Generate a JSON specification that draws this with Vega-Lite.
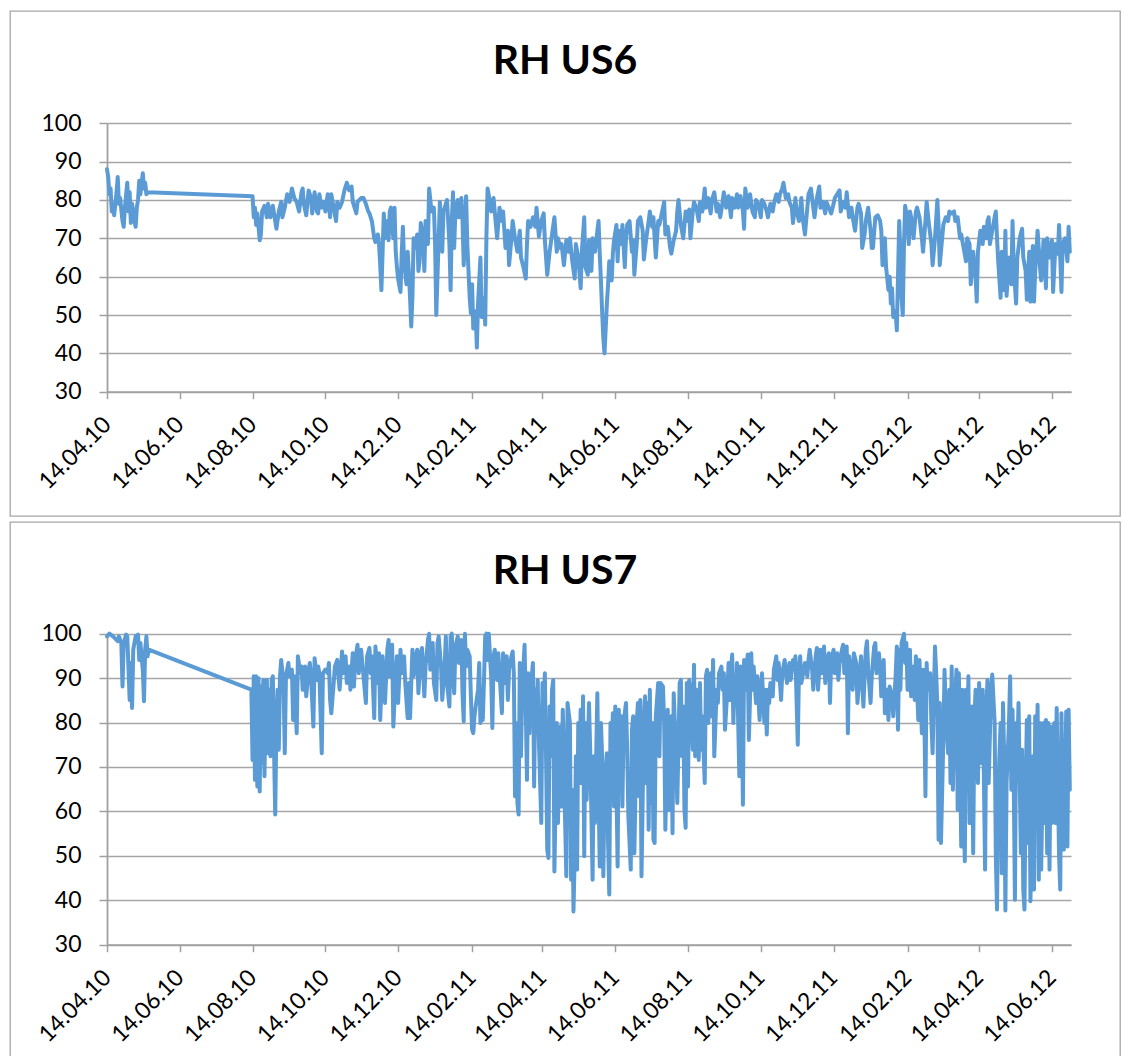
{
  "$schema": "https://vega.github.io/schema/vega-lite/v6.json",
  "background": "white",
  "padding": {"left": 9, "top": 10, "right": 0, "bottom": 0},
  "config": {
    "font": "Lato",
    "view": {"stroke": "#a6a6a6", "strokeWidth": 1.3},
    "concat": {"spacing": 4},
    "axis": {
      "labelFont": "Lato", "labelFontSize": 23, "labelColor": "#000000",
      "tickColor": "#a0a0a0", "tickWidth": 1.5, "domainColor": "#a0a0a0", "domainWidth": 1.8,
      "gridColor": "#a6a6a6", "gridWidth": 1.3, "labelFlush": false, "labelOverlap": false, "labelBound": false
    }
  },
  "datasets": {
    "us6": [
{"date":"2010-04-14","rh":88},{"date":"2010-04-15","rh":86},{"date":"2010-04-16","rh":81.5},{"date":"2010-04-17","rh":83},{"date":"2010-04-18","rh":77},{"date":"2010-04-19","rh":79},{"date":"2010-04-20","rh":76},{"date":"2010-04-22","rh":82},{"date":"2010-04-23","rh":86},{"date":"2010-04-24","rh":79},{"date":"2010-04-25","rh":80.5},{"date":"2010-04-27","rh":74.5},{"date":"2010-04-28","rh":73},{"date":"2010-04-29","rh":78},{"date":"2010-05-01","rh":84.5},{"date":"2010-05-02","rh":77},{"date":"2010-05-03","rh":82},{"date":"2010-05-04","rh":74},{"date":"2010-05-05","rh":79},{"date":"2010-05-07","rh":74.5},{"date":"2010-05-08","rh":73},{"date":"2010-05-09","rh":78},{"date":"2010-05-10","rh":80},{"date":"2010-05-11","rh":85},{"date":"2010-05-12","rh":81.5},{"date":"2010-05-14","rh":87},{"date":"2010-05-15","rh":83},{"date":"2010-05-16","rh":84.5},{"date":"2010-05-17","rh":81.5},{"date":"2010-05-18","rh":82},
{"date":"2010-08-14","rh":81},{"date":"2010-08-15","rh":75.5},{"date":"2010-08-16","rh":78},{"date":"2010-08-17","rh":73.5},{"date":"2010-08-18","rh":76.5},{"date":"2010-08-20","rh":69.5},{"date":"2010-08-21","rh":71},{"date":"2010-08-22","rh":77},{"date":"2010-08-24","rh":78.5},{"date":"2010-08-26","rh":75.5},{"date":"2010-08-27","rh":79},{"date":"2010-08-29","rh":75.5},{"date":"2010-08-31","rh":78.5},{"date":"2010-09-03","rh":72.5},{"date":"2010-09-05","rh":77},{"date":"2010-09-07","rh":79.5},{"date":"2010-09-08","rh":75.5},{"date":"2010-09-10","rh":78},{"date":"2010-09-12","rh":81.5},{"date":"2010-09-14","rh":79.5},{"date":"2010-09-16","rh":83},{"date":"2010-09-18","rh":80.5},{"date":"2010-09-20","rh":79.5},{"date":"2010-09-22","rh":77},{"date":"2010-09-24","rh":82},{"date":"2010-09-25","rh":83},{"date":"2010-09-26","rh":79},{"date":"2010-09-28","rh":76},{"date":"2010-09-30","rh":82.5},
{"date":"2010-10-02","rh":80.5},{"date":"2010-10-03","rh":76.5},{"date":"2010-10-05","rh":82},{"date":"2010-10-07","rh":77},{"date":"2010-10-08","rh":76.5},{"date":"2010-10-09","rh":81.5},{"date":"2010-10-11","rh":78},{"date":"2010-10-13","rh":79.5},{"date":"2010-10-14","rh":77},{"date":"2010-10-16","rh":81.5},{"date":"2010-10-18","rh":75.5},{"date":"2010-10-19","rh":81.5},{"date":"2010-10-21","rh":78},{"date":"2010-10-23","rh":74.5},{"date":"2010-10-24","rh":79.5},{"date":"2010-10-26","rh":78},{"date":"2010-10-28","rh":79.5},{"date":"2010-10-30","rh":82.5},{"date":"2010-10-31","rh":83.5},
{"date":"2010-11-01","rh":84.5},{"date":"2010-11-03","rh":82.5},{"date":"2010-11-05","rh":83.5},{"date":"2010-11-06","rh":79.5},{"date":"2010-11-07","rh":78.5},{"date":"2010-11-09","rh":76.5},{"date":"2010-11-10","rh":79.5},{"date":"2010-11-13","rh":80.5},{"date":"2010-11-15","rh":80.5},{"date":"2010-11-17","rh":79},{"date":"2010-11-19","rh":77},{"date":"2010-11-20","rh":76.5},{"date":"2010-11-22","rh":74.5},{"date":"2010-11-24","rh":70},{"date":"2010-11-25","rh":69},{"date":"2010-11-27","rh":71},{"date":"2010-11-28","rh":68.5},{"date":"2010-11-29","rh":63},{"date":"2010-11-30","rh":56.5},
{"date":"2010-12-01","rh":66.5},{"date":"2010-12-02","rh":76.5},{"date":"2010-12-03","rh":70},{"date":"2010-12-05","rh":74.5},{"date":"2010-12-06","rh":69.5},{"date":"2010-12-07","rh":77},{"date":"2010-12-08","rh":78},{"date":"2010-12-10","rh":70},{"date":"2010-12-11","rh":78},{"date":"2010-12-12","rh":66.5},{"date":"2010-12-13","rh":62.5},{"date":"2010-12-14","rh":59.5},{"date":"2010-12-16","rh":56},{"date":"2010-12-17","rh":66},{"date":"2010-12-18","rh":73},{"date":"2010-12-19","rh":64},{"date":"2010-12-21","rh":58},{"date":"2010-12-22","rh":66.5},{"date":"2010-12-23","rh":61.5},{"date":"2010-12-24","rh":54.5},{"date":"2010-12-25","rh":47},{"date":"2010-12-26","rh":54.5},{"date":"2010-12-27","rh":70},{"date":"2010-12-28","rh":67.5},{"date":"2010-12-30","rh":71},{"date":"2010-12-31","rh":61.5},
{"date":"2011-01-01","rh":64},{"date":"2011-01-02","rh":74},{"date":"2011-01-04","rh":70},{"date":"2011-01-05","rh":61.5},{"date":"2011-01-06","rh":74.5},{"date":"2011-01-08","rh":68.5},{"date":"2011-01-09","rh":83},{"date":"2011-01-11","rh":77},{"date":"2011-01-13","rh":78},{"date":"2011-01-14","rh":68.5},{"date":"2011-01-15","rh":50},{"date":"2011-01-16","rh":60},{"date":"2011-01-18","rh":79.5},{"date":"2011-01-20","rh":66.5},{"date":"2011-01-21","rh":77},{"date":"2011-01-23","rh":79},{"date":"2011-01-24","rh":80},{"date":"2011-01-26","rh":68.5},{"date":"2011-01-27","rh":56.5},{"date":"2011-01-28","rh":74.5},{"date":"2011-01-29","rh":82},{"date":"2011-01-30","rh":67.5},{"date":"2011-01-31","rh":77},
{"date":"2011-02-02","rh":80},{"date":"2011-02-03","rh":75.5},{"date":"2011-02-05","rh":80.5},{"date":"2011-02-06","rh":74.5},{"date":"2011-02-07","rh":63},{"date":"2011-02-09","rh":81},{"date":"2011-02-10","rh":68.5},{"date":"2011-02-12","rh":54.5},{"date":"2011-02-13","rh":50.5},{"date":"2011-02-14","rh":58},{"date":"2011-02-15","rh":46.5},{"date":"2011-02-17","rh":51},{"date":"2011-02-18","rh":41.5},{"date":"2011-02-19","rh":53},{"date":"2011-02-21","rh":65},{"date":"2011-02-22","rh":49.5},{"date":"2011-02-24","rh":54.5},{"date":"2011-02-25","rh":47.5},{"date":"2011-02-26","rh":70},{"date":"2011-02-27","rh":83},
{"date":"2011-03-01","rh":79.5},{"date":"2011-03-02","rh":77},{"date":"2011-03-04","rh":80.5},{"date":"2011-03-06","rh":73.5},{"date":"2011-03-07","rh":70},{"date":"2011-03-09","rh":78},{"date":"2011-03-11","rh":74.5},{"date":"2011-03-12","rh":77},{"date":"2011-03-14","rh":67.5},{"date":"2011-03-16","rh":72},{"date":"2011-03-17","rh":63},{"date":"2011-03-19","rh":70},{"date":"2011-03-20","rh":74.5},{"date":"2011-03-22","rh":70},{"date":"2011-03-24","rh":66.5},{"date":"2011-03-26","rh":72},{"date":"2011-03-27","rh":65},{"date":"2011-03-29","rh":62.5},{"date":"2011-03-31","rh":59.5},
{"date":"2011-04-01","rh":68.5},{"date":"2011-04-02","rh":74.5},{"date":"2011-04-04","rh":73},{"date":"2011-04-06","rh":75.5},{"date":"2011-04-08","rh":73},{"date":"2011-04-09","rh":78},{"date":"2011-04-11","rh":70.5},{"date":"2011-04-13","rh":74.5},{"date":"2011-04-15","rh":76.5},{"date":"2011-04-16","rh":69.5},{"date":"2011-04-18","rh":60.5},{"date":"2011-04-20","rh":66.5},{"date":"2011-04-22","rh":71},{"date":"2011-04-24","rh":75.5},{"date":"2011-04-26","rh":66.5},{"date":"2011-04-27","rh":70},{"date":"2011-04-29","rh":67.5},{"date":"2011-04-30","rh":68.5},
{"date":"2011-05-02","rh":63},{"date":"2011-05-04","rh":69.5},{"date":"2011-05-06","rh":66.5},{"date":"2011-05-07","rh":70},{"date":"2011-05-09","rh":64},{"date":"2011-05-11","rh":59.5},{"date":"2011-05-12","rh":68.5},{"date":"2011-05-14","rh":65},{"date":"2011-05-16","rh":57},{"date":"2011-05-17","rh":66.5},{"date":"2011-05-19","rh":75.5},{"date":"2011-05-20","rh":62.5},{"date":"2011-05-22","rh":60.5},{"date":"2011-05-23","rh":69.5},{"date":"2011-05-25","rh":61.5},{"date":"2011-05-26","rh":70},{"date":"2011-05-28","rh":66.5},{"date":"2011-05-30","rh":72},{"date":"2011-05-31","rh":74.5},
{"date":"2011-06-01","rh":66},{"date":"2011-06-02","rh":59},{"date":"2011-06-03","rh":51},{"date":"2011-06-04","rh":44},{"date":"2011-06-05","rh":40},{"date":"2011-06-06","rh":46.5},{"date":"2011-06-07","rh":53},{"date":"2011-06-08","rh":58},{"date":"2011-06-09","rh":64},{"date":"2011-06-11","rh":59},{"date":"2011-06-12","rh":66},{"date":"2011-06-13","rh":69.5},{"date":"2011-06-15","rh":73.5},{"date":"2011-06-16","rh":64},{"date":"2011-06-17","rh":72},{"date":"2011-06-19","rh":68.5},{"date":"2011-06-20","rh":73.5},{"date":"2011-06-22","rh":62.5},{"date":"2011-06-23","rh":70},{"date":"2011-06-24","rh":73.5},{"date":"2011-06-26","rh":74.5},{"date":"2011-06-28","rh":66.5},{"date":"2011-06-29","rh":69.5},{"date":"2011-06-30","rh":60.5},
{"date":"2011-07-02","rh":68.5},{"date":"2011-07-03","rh":74.5},{"date":"2011-07-05","rh":75.5},{"date":"2011-07-07","rh":72},{"date":"2011-07-08","rh":64.5},{"date":"2011-07-10","rh":70},{"date":"2011-07-12","rh":74.5},{"date":"2011-07-13","rh":77},{"date":"2011-07-15","rh":73},{"date":"2011-07-16","rh":75.5},{"date":"2011-07-18","rh":65},{"date":"2011-07-20","rh":74.5},{"date":"2011-07-21","rh":73.5},{"date":"2011-07-23","rh":76.5},{"date":"2011-07-25","rh":79.5},{"date":"2011-07-26","rh":71},{"date":"2011-07-28","rh":73},{"date":"2011-07-30","rh":67.5},{"date":"2011-07-31","rh":66},
{"date":"2011-08-02","rh":69.5},{"date":"2011-08-04","rh":72},{"date":"2011-08-05","rh":77},{"date":"2011-08-06","rh":80},{"date":"2011-08-08","rh":73.5},{"date":"2011-08-10","rh":70},{"date":"2011-08-12","rh":77},{"date":"2011-08-13","rh":74.5},{"date":"2011-08-15","rh":77.5},{"date":"2011-08-16","rh":70},{"date":"2011-08-18","rh":77},{"date":"2011-08-19","rh":79.5},{"date":"2011-08-21","rh":78},{"date":"2011-08-23","rh":74.5},{"date":"2011-08-24","rh":79.5},{"date":"2011-08-26","rh":77},{"date":"2011-08-28","rh":83},{"date":"2011-08-29","rh":78},{"date":"2011-08-31","rh":80.5},
{"date":"2011-09-02","rh":76.5},{"date":"2011-09-03","rh":80},{"date":"2011-09-05","rh":82},{"date":"2011-09-07","rh":77},{"date":"2011-09-08","rh":79},{"date":"2011-09-10","rh":75.5},{"date":"2011-09-12","rh":79.5},{"date":"2011-09-13","rh":82},{"date":"2011-09-15","rh":78},{"date":"2011-09-17","rh":81},{"date":"2011-09-19","rh":75.5},{"date":"2011-09-20","rh":80.5},{"date":"2011-09-22","rh":78},{"date":"2011-09-24","rh":81.5},{"date":"2011-09-25","rh":78},{"date":"2011-09-27","rh":81},{"date":"2011-09-29","rh":77},{"date":"2011-09-30","rh":72.5},
{"date":"2011-10-01","rh":83},{"date":"2011-10-03","rh":78},{"date":"2011-10-05","rh":81.5},{"date":"2011-10-07","rh":77},{"date":"2011-10-09","rh":75.5},{"date":"2011-10-10","rh":80},{"date":"2011-10-12","rh":79},{"date":"2011-10-14","rh":75.5},{"date":"2011-10-15","rh":80},{"date":"2011-10-17","rh":79},{"date":"2011-10-19","rh":77},{"date":"2011-10-20","rh":75.5},{"date":"2011-10-22","rh":79},{"date":"2011-10-24","rh":77},{"date":"2011-10-25","rh":79},{"date":"2011-10-27","rh":81.5},{"date":"2011-10-29","rh":79.5},{"date":"2011-10-30","rh":81.5},
{"date":"2011-11-01","rh":83},{"date":"2011-11-02","rh":84.5},{"date":"2011-11-04","rh":80.5},{"date":"2011-11-06","rh":81.5},{"date":"2011-11-07","rh":79.5},{"date":"2011-11-09","rh":78},{"date":"2011-11-10","rh":74},{"date":"2011-11-12","rh":80.5},{"date":"2011-11-13","rh":77},{"date":"2011-11-15","rh":74.5},{"date":"2011-11-17","rh":80.5},{"date":"2011-11-18","rh":75.5},{"date":"2011-11-20","rh":71},{"date":"2011-11-22","rh":78},{"date":"2011-11-23","rh":81.5},{"date":"2011-11-25","rh":83},{"date":"2011-11-27","rh":78},{"date":"2011-11-28","rh":75.5},{"date":"2011-11-30","rh":80.5},
{"date":"2011-12-02","rh":83.5},{"date":"2011-12-03","rh":78},{"date":"2011-12-05","rh":79.5},{"date":"2011-12-07","rh":76.5},{"date":"2011-12-08","rh":79.5},{"date":"2011-12-10","rh":78},{"date":"2011-12-12","rh":76.5},{"date":"2011-12-14","rh":79},{"date":"2011-12-15","rh":80.5},{"date":"2011-12-17","rh":81.5},{"date":"2011-12-19","rh":82.5},{"date":"2011-12-20","rh":77},{"date":"2011-12-22","rh":79.5},{"date":"2011-12-24","rh":78},{"date":"2011-12-25","rh":82},{"date":"2011-12-27","rh":75.5},{"date":"2011-12-29","rh":78},{"date":"2011-12-30","rh":75.5},
{"date":"2012-01-01","rh":72},{"date":"2012-01-03","rh":78},{"date":"2012-01-04","rh":79},{"date":"2012-01-06","rh":76.5},{"date":"2012-01-07","rh":67.5},{"date":"2012-01-09","rh":71},{"date":"2012-01-10","rh":74.5},{"date":"2012-01-12","rh":78},{"date":"2012-01-14","rh":72},{"date":"2012-01-15","rh":67.5},{"date":"2012-01-16","rh":67.5},{"date":"2012-01-18","rh":75.5},{"date":"2012-01-20","rh":76},{"date":"2012-01-22","rh":74.5},{"date":"2012-01-23","rh":72},{"date":"2012-01-24","rh":63},{"date":"2012-01-26","rh":70},{"date":"2012-01-27","rh":62.5},{"date":"2012-01-29","rh":56.5},{"date":"2012-01-30","rh":60},{"date":"2012-01-31","rh":53},
{"date":"2012-02-01","rh":57},{"date":"2012-02-02","rh":49.5},{"date":"2012-02-04","rh":51},{"date":"2012-02-05","rh":46},{"date":"2012-02-06","rh":60},{"date":"2012-02-07","rh":74.5},{"date":"2012-02-08","rh":66.5},{"date":"2012-02-09","rh":54.5},{"date":"2012-02-10","rh":50},{"date":"2012-02-11","rh":68.5},{"date":"2012-02-12","rh":78.5},{"date":"2012-02-14","rh":74.5},{"date":"2012-02-15","rh":68.5},{"date":"2012-02-16","rh":77},{"date":"2012-02-17","rh":75.5},{"date":"2012-02-19","rh":70},{"date":"2012-02-21","rh":77},{"date":"2012-02-22","rh":78},{"date":"2012-02-24","rh":75.5},{"date":"2012-02-26","rh":70},{"date":"2012-02-27","rh":66.5},{"date":"2012-02-29","rh":74.5},
{"date":"2012-03-01","rh":79.5},{"date":"2012-03-03","rh":73.5},{"date":"2012-03-05","rh":68.5},{"date":"2012-03-06","rh":63},{"date":"2012-03-08","rh":70},{"date":"2012-03-10","rh":80},{"date":"2012-03-11","rh":73.5},{"date":"2012-03-12","rh":63},{"date":"2012-03-14","rh":70},{"date":"2012-03-15","rh":73.5},{"date":"2012-03-17","rh":75.5},{"date":"2012-03-19","rh":74.5},{"date":"2012-03-20","rh":77},{"date":"2012-03-22","rh":76.5},{"date":"2012-03-24","rh":77},{"date":"2012-03-25","rh":74.5},{"date":"2012-03-27","rh":75.5},{"date":"2012-03-29","rh":70},{"date":"2012-03-30","rh":71},
{"date":"2012-04-01","rh":67.5},{"date":"2012-04-03","rh":64},{"date":"2012-04-04","rh":70},{"date":"2012-04-06","rh":68.5},{"date":"2012-04-07","rh":58},{"date":"2012-04-09","rh":66.5},{"date":"2012-04-11","rh":60},{"date":"2012-04-12","rh":53.5},{"date":"2012-04-13","rh":66.5},{"date":"2012-04-15","rh":72},{"date":"2012-04-17","rh":68.5},{"date":"2012-04-18","rh":73},{"date":"2012-04-20","rh":70},{"date":"2012-04-21","rh":74.5},{"date":"2012-04-22","rh":75.5},{"date":"2012-04-23","rh":68.5},{"date":"2012-04-25","rh":72},{"date":"2012-04-27","rh":75.5},{"date":"2012-04-28","rh":77},{"date":"2012-04-29","rh":70},{"date":"2012-04-30","rh":64},
{"date":"2012-05-02","rh":54.5},{"date":"2012-05-03","rh":66.5},{"date":"2012-05-05","rh":56.5},{"date":"2012-05-06","rh":72},{"date":"2012-05-07","rh":55},{"date":"2012-05-09","rh":65},{"date":"2012-05-11","rh":58},{"date":"2012-05-12","rh":74.5},{"date":"2012-05-13","rh":62.5},{"date":"2012-05-15","rh":53},{"date":"2012-05-16","rh":65},{"date":"2012-05-18","rh":70},{"date":"2012-05-20","rh":72.5},{"date":"2012-05-21","rh":65},{"date":"2012-05-23","rh":61.5},{"date":"2012-05-24","rh":54},{"date":"2012-05-26","rh":66.5},{"date":"2012-05-27","rh":53.5},{"date":"2012-05-29","rh":68},{"date":"2012-05-30","rh":53.5},{"date":"2012-05-31","rh":61.5},
{"date":"2012-06-02","rh":72},{"date":"2012-06-04","rh":62.5},{"date":"2012-06-05","rh":59},{"date":"2012-06-07","rh":69.5},{"date":"2012-06-09","rh":57},{"date":"2012-06-10","rh":70},{"date":"2012-06-12","rh":65},{"date":"2012-06-14","rh":69.5},{"date":"2012-06-15","rh":56},{"date":"2012-06-17","rh":68.5},{"date":"2012-06-19","rh":66},{"date":"2012-06-20","rh":73.5},{"date":"2012-06-22","rh":56},{"date":"2012-06-23","rh":68.5},{"date":"2012-06-25","rh":70},{"date":"2012-06-27","rh":64},{"date":"2012-06-28","rh":73},{"date":"2012-06-29","rh":66.5}
    ],
    "us7": [
{"date":"2010-04-14","rh":99.4},{"date":"2010-04-16","rh":100},{"date":"2010-04-19","rh":99.4},{"date":"2010-04-22","rh":98.6},{"date":"2010-04-23","rh":98.3},{"date":"2010-04-24","rh":99.4},{"date":"2010-04-26","rh":97.9},{"date":"2010-04-27","rh":88.1},{"date":"2010-04-28","rh":97.9},{"date":"2010-04-30","rh":99.8},{"date":"2010-05-01","rh":99.4},{"date":"2010-05-03","rh":85.1},{"date":"2010-05-04","rh":93.4},{"date":"2010-05-05","rh":83.3},{"date":"2010-05-06","rh":96.4},{"date":"2010-05-08","rh":99.4},{"date":"2010-05-10","rh":99.8},{"date":"2010-05-11","rh":94.1},{"date":"2010-05-12","rh":97.9},{"date":"2010-05-14","rh":91.9},{"date":"2010-05-15","rh":84.8},{"date":"2010-05-16","rh":96.4},{"date":"2010-05-17","rh":99.4},{"date":"2010-05-18","rh":94.9},{"date":"2010-05-19","rh":96.4},
{"date":"2010-08-13","rh":87.4},{"date":"2010-08-14","rh":71.6},{"date":"2010-08-15","rh":90.4},{"date":"2010-08-16","rh":67.1},{"date":"2010-08-17","rh":90.4},{"date":"2010-08-18","rh":65.6},{"date":"2010-08-19","rh":90},{"date":"2010-08-20","rh":64.5},{"date":"2010-08-21","rh":88.1},{"date":"2010-08-22","rh":70.9},{"date":"2010-08-23","rh":89.6},{"date":"2010-08-24","rh":67.9},{"date":"2010-08-25","rh":87.4},{"date":"2010-08-26","rh":89.6},{"date":"2010-08-27","rh":73.1},{"date":"2010-08-28","rh":87.4},{"date":"2010-08-29","rh":72.4},{"date":"2010-08-30","rh":89.6},{"date":"2010-08-31","rh":90.4},
{"date":"2010-09-01","rh":73.9},{"date":"2010-09-02","rh":59.3},{"date":"2010-09-03","rh":79.9},{"date":"2010-09-04","rh":87.4},{"date":"2010-09-05","rh":73.9},{"date":"2010-09-06","rh":90.4},{"date":"2010-09-07","rh":94.1},{"date":"2010-09-09","rh":88.9},{"date":"2010-09-10","rh":73.1},{"date":"2010-09-11","rh":90.4},{"date":"2010-09-13","rh":93.4},{"date":"2010-09-14","rh":90.4},{"date":"2010-09-16","rh":91.9},{"date":"2010-09-17","rh":80.6},{"date":"2010-09-18","rh":90.4},{"date":"2010-09-20","rh":77.6},{"date":"2010-09-21","rh":94.9},{"date":"2010-09-23","rh":91.1},{"date":"2010-09-24","rh":92.6},{"date":"2010-09-25","rh":87.4},{"date":"2010-09-27","rh":92.6},{"date":"2010-09-28","rh":85.9},{"date":"2010-09-30","rh":91.9},
{"date":"2010-10-01","rh":93.4},{"date":"2010-10-02","rh":90.4},{"date":"2010-10-04","rh":79.1},{"date":"2010-10-05","rh":94.5},{"date":"2010-10-07","rh":89.6},{"date":"2010-10-08","rh":92.6},{"date":"2010-10-09","rh":91.1},{"date":"2010-10-11","rh":73.1},{"date":"2010-10-12","rh":91.1},{"date":"2010-10-14","rh":91.9},{"date":"2010-10-16","rh":91.1},{"date":"2010-10-17","rh":93.4},{"date":"2010-10-18","rh":85.1},{"date":"2010-10-19","rh":82.1},{"date":"2010-10-21","rh":88.9},{"date":"2010-10-22","rh":92.6},{"date":"2010-10-24","rh":94.1},{"date":"2010-10-25","rh":90.4},{"date":"2010-10-26","rh":87.4},{"date":"2010-10-28","rh":96},{"date":"2010-10-29","rh":91.1},{"date":"2010-10-31","rh":94.9},
{"date":"2010-11-01","rh":88.9},{"date":"2010-11-03","rh":92.6},{"date":"2010-11-04","rh":87.4},{"date":"2010-11-06","rh":95.6},{"date":"2010-11-07","rh":88.1},{"date":"2010-11-08","rh":94.1},{"date":"2010-11-10","rh":97.5},{"date":"2010-11-11","rh":91.1},{"date":"2010-11-13","rh":96.4},{"date":"2010-11-14","rh":93.4},{"date":"2010-11-15","rh":90.4},{"date":"2010-11-17","rh":84.4},{"date":"2010-11-18","rh":94.9},{"date":"2010-11-20","rh":96.8},{"date":"2010-11-21","rh":91.1},{"date":"2010-11-22","rh":94.9},{"date":"2010-11-24","rh":81},{"date":"2010-11-25","rh":97.1},{"date":"2010-11-27","rh":88.9},{"date":"2010-11-28","rh":95.6},{"date":"2010-11-29","rh":80.6},
{"date":"2010-12-01","rh":94.9},{"date":"2010-12-02","rh":89.6},{"date":"2010-12-03","rh":84.4},{"date":"2010-12-05","rh":96.4},{"date":"2010-12-06","rh":98.6},{"date":"2010-12-07","rh":90.4},{"date":"2010-12-09","rh":97.5},{"date":"2010-12-10","rh":79.1},{"date":"2010-12-12","rh":91.1},{"date":"2010-12-13","rh":94.9},{"date":"2010-12-14","rh":84.4},{"date":"2010-12-16","rh":96.4},{"date":"2010-12-17","rh":91.1},{"date":"2010-12-19","rh":94.9},{"date":"2010-12-20","rh":88.9},{"date":"2010-12-22","rh":81},{"date":"2010-12-23","rh":88.9},{"date":"2010-12-24","rh":81},{"date":"2010-12-26","rh":96.4},{"date":"2010-12-27","rh":90.4},{"date":"2010-12-29","rh":94.9},{"date":"2010-12-30","rh":96.4},{"date":"2010-12-31","rh":86.6},
{"date":"2011-01-02","rh":95.6},{"date":"2011-01-03","rh":96.8},{"date":"2011-01-05","rh":85.9},{"date":"2011-01-06","rh":92.6},{"date":"2011-01-08","rh":98.6},{"date":"2011-01-09","rh":100},{"date":"2011-01-10","rh":91.9},{"date":"2011-01-12","rh":97.9},{"date":"2011-01-13","rh":88.9},{"date":"2011-01-15","rh":85.1},{"date":"2011-01-16","rh":97.9},{"date":"2011-01-17","rh":99.4},{"date":"2011-01-19","rh":92.6},{"date":"2011-01-20","rh":85.1},{"date":"2011-01-22","rh":92.6},{"date":"2011-01-23","rh":99.4},{"date":"2011-01-24","rh":88.9},{"date":"2011-01-26","rh":83.6},{"date":"2011-01-27","rh":99.4},{"date":"2011-01-28","rh":100},{"date":"2011-01-29","rh":91.1},{"date":"2011-01-30","rh":86.6},{"date":"2011-01-31","rh":97.1},
{"date":"2011-02-02","rh":99.4},{"date":"2011-02-03","rh":93.4},{"date":"2011-02-05","rh":98.6},{"date":"2011-02-06","rh":86.3},{"date":"2011-02-07","rh":80.3},{"date":"2011-02-08","rh":100},{"date":"2011-02-09","rh":92.6},{"date":"2011-02-10","rh":96.4},{"date":"2011-02-12","rh":94.9},{"date":"2011-02-13","rh":85.9},{"date":"2011-02-14","rh":78.4},{"date":"2011-02-15","rh":77.6},{"date":"2011-02-16","rh":81.4},{"date":"2011-02-17","rh":83.6},{"date":"2011-02-19","rh":87.4},{"date":"2011-02-20","rh":93.4},{"date":"2011-02-21","rh":79.9},{"date":"2011-02-22","rh":87.4},{"date":"2011-02-23","rh":80.6},{"date":"2011-02-24","rh":89.6},{"date":"2011-02-25","rh":99.4},{"date":"2011-02-26","rh":100},{"date":"2011-02-27","rh":94.1},{"date":"2011-02-28","rh":100},
{"date":"2011-03-02","rh":90.4},{"date":"2011-03-03","rh":78.8},{"date":"2011-03-04","rh":94.9},{"date":"2011-03-05","rh":96.4},{"date":"2011-03-07","rh":89.6},{"date":"2011-03-08","rh":95.6},{"date":"2011-03-09","rh":91.1},{"date":"2011-03-11","rh":82.1},{"date":"2011-03-12","rh":95.6},{"date":"2011-03-14","rh":88.9},{"date":"2011-03-15","rh":94.9},{"date":"2011-03-16","rh":85.1},{"date":"2011-03-17","rh":91.9},{"date":"2011-03-19","rh":94.9},{"date":"2011-03-20","rh":96},{"date":"2011-03-21","rh":91.1},{"date":"2011-03-22","rh":63.4},{"date":"2011-03-23","rh":79.9},{"date":"2011-03-24","rh":61.9},{"date":"2011-03-25","rh":59.3},{"date":"2011-03-26","rh":93.4},{"date":"2011-03-27","rh":72.4},{"date":"2011-03-28","rh":87.4},{"date":"2011-03-30","rh":97.5},{"date":"2011-03-31","rh":83.6},
{"date":"2011-04-01","rh":67.1},{"date":"2011-04-02","rh":91.1},{"date":"2011-04-03","rh":77.6},{"date":"2011-04-04","rh":87.4},{"date":"2011-04-06","rh":93.4},{"date":"2011-04-07","rh":65.6},{"date":"2011-04-08","rh":87.4},{"date":"2011-04-09","rh":79.9},{"date":"2011-04-10","rh":89.6},{"date":"2011-04-11","rh":76.1},{"date":"2011-04-13","rh":57.4},{"date":"2011-04-14","rh":88.9},{"date":"2011-04-15","rh":83.6},{"date":"2011-04-16","rh":91.1},{"date":"2011-04-17","rh":72.4},{"date":"2011-04-18","rh":51.4},{"date":"2011-04-19","rh":49.5},{"date":"2011-04-20","rh":83.6},{"date":"2011-04-21","rh":72.4},{"date":"2011-04-22","rh":87.4},{"date":"2011-04-23","rh":89.6},{"date":"2011-04-24","rh":46.5},{"date":"2011-04-26","rh":79.9},{"date":"2011-04-27","rh":57.4},{"date":"2011-04-28","rh":72.4},{"date":"2011-04-29","rh":79.1},{"date":"2011-04-30","rh":61.1},
{"date":"2011-05-01","rh":82.9},{"date":"2011-05-02","rh":72.4},{"date":"2011-05-03","rh":57.4},{"date":"2011-05-04","rh":45.4},{"date":"2011-05-05","rh":84.4},{"date":"2011-05-07","rh":79.9},{"date":"2011-05-08","rh":44.6},{"date":"2011-05-09","rh":64.9},{"date":"2011-05-10","rh":37.5},{"date":"2011-05-11","rh":49.9},{"date":"2011-05-12","rh":72.4},{"date":"2011-05-13","rh":46.9},{"date":"2011-05-14","rh":79.9},{"date":"2011-05-15","rh":66.4},{"date":"2011-05-16","rh":82.9},{"date":"2011-05-17","rh":66.4},{"date":"2011-05-18","rh":85.9},{"date":"2011-05-19","rh":49.9},{"date":"2011-05-20","rh":79.9},{"date":"2011-05-21","rh":62.6},{"date":"2011-05-23","rh":84.4},{"date":"2011-05-24","rh":73.9},{"date":"2011-05-26","rh":44.6},{"date":"2011-05-27","rh":72.4},{"date":"2011-05-28","rh":57.4},{"date":"2011-05-30","rh":86.6},{"date":"2011-05-31","rh":64.9},
{"date":"2011-06-01","rh":47.6},{"date":"2011-06-02","rh":79.9},{"date":"2011-06-03","rh":72.4},{"date":"2011-06-04","rh":45.4},{"date":"2011-06-05","rh":64.9},{"date":"2011-06-07","rh":73.1},{"date":"2011-06-08","rh":52.9},{"date":"2011-06-09","rh":41.3},{"date":"2011-06-10","rh":79.9},{"date":"2011-06-11","rh":72.4},{"date":"2011-06-12","rh":82.1},{"date":"2011-06-13","rh":61.1},{"date":"2011-06-14","rh":83.6},{"date":"2011-06-16","rh":47.6},{"date":"2011-06-17","rh":82.9},{"date":"2011-06-18","rh":68.6},{"date":"2011-06-19","rh":81.4},{"date":"2011-06-20","rh":61.1},{"date":"2011-06-21","rh":79.9},{"date":"2011-06-23","rh":84.4},{"date":"2011-06-24","rh":73.9},{"date":"2011-06-25","rh":58.9},{"date":"2011-06-27","rh":46.9},{"date":"2011-06-28","rh":78.4},{"date":"2011-06-29","rh":81.4},{"date":"2011-06-30","rh":50.6},
{"date":"2011-07-02","rh":79.9},{"date":"2011-07-03","rh":84.4},{"date":"2011-07-04","rh":63.4},{"date":"2011-07-05","rh":85.1},{"date":"2011-07-06","rh":45.4},{"date":"2011-07-08","rh":79.9},{"date":"2011-07-09","rh":85.9},{"date":"2011-07-10","rh":66.4},{"date":"2011-07-11","rh":84.4},{"date":"2011-07-12","rh":55.9},{"date":"2011-07-13","rh":87.4},{"date":"2011-07-14","rh":61.9},{"date":"2011-07-15","rh":79.9},{"date":"2011-07-16","rh":53.6},{"date":"2011-07-17","rh":52.9},{"date":"2011-07-18","rh":81.4},{"date":"2011-07-20","rh":88.9},{"date":"2011-07-21","rh":72.4},{"date":"2011-07-22","rh":88.9},{"date":"2011-07-24","rh":88.1},{"date":"2011-07-25","rh":79.9},{"date":"2011-07-26","rh":55.9},{"date":"2011-07-28","rh":82.9},{"date":"2011-07-29","rh":60.4},{"date":"2011-07-31","rh":81.4},
{"date":"2011-08-01","rh":55.1},{"date":"2011-08-02","rh":86.6},{"date":"2011-08-04","rh":72.4},{"date":"2011-08-05","rh":61.9},{"date":"2011-08-07","rh":88.9},{"date":"2011-08-08","rh":89.6},{"date":"2011-08-09","rh":72.4},{"date":"2011-08-10","rh":83.6},{"date":"2011-08-11","rh":60.4},{"date":"2011-08-12","rh":56.3},{"date":"2011-08-13","rh":88.9},{"date":"2011-08-14","rh":65.6},{"date":"2011-08-15","rh":89.6},{"date":"2011-08-16","rh":87.4},{"date":"2011-08-18","rh":73.9},{"date":"2011-08-19","rh":93},{"date":"2011-08-20","rh":72.4},{"date":"2011-08-21","rh":87.4},{"date":"2011-08-22","rh":79.9},{"date":"2011-08-23","rh":71.6},{"date":"2011-08-24","rh":88.9},{"date":"2011-08-25","rh":73.9},{"date":"2011-08-26","rh":81.4},{"date":"2011-08-28","rh":66.4},{"date":"2011-08-29","rh":90.4},{"date":"2011-08-30","rh":91.9},{"date":"2011-08-31","rh":79.9},
{"date":"2011-09-01","rh":87.4},{"date":"2011-09-02","rh":91.1},{"date":"2011-09-03","rh":81.4},{"date":"2011-09-04","rh":94.1},{"date":"2011-09-05","rh":72.4},{"date":"2011-09-07","rh":87.4},{"date":"2011-09-08","rh":84.4},{"date":"2011-09-09","rh":91.1},{"date":"2011-09-11","rh":92.6},{"date":"2011-09-12","rh":87.4},{"date":"2011-09-13","rh":91.1},{"date":"2011-09-14","rh":78.4},{"date":"2011-09-16","rh":87.4},{"date":"2011-09-17","rh":93.4},{"date":"2011-09-18","rh":85.1},{"date":"2011-09-19","rh":91.9},{"date":"2011-09-20","rh":95.3},{"date":"2011-09-21","rh":79.9},{"date":"2011-09-22","rh":88.9},{"date":"2011-09-23","rh":85.1},{"date":"2011-09-24","rh":93.4},{"date":"2011-09-26","rh":67.9},{"date":"2011-09-27","rh":92.6},{"date":"2011-09-28","rh":85.9},{"date":"2011-09-29","rh":61.5},{"date":"2011-09-30","rh":94.1},
{"date":"2011-10-01","rh":87.4},{"date":"2011-10-03","rh":95.3},{"date":"2011-10-04","rh":76.1},{"date":"2011-10-06","rh":95.6},{"date":"2011-10-07","rh":87.4},{"date":"2011-10-08","rh":92.6},{"date":"2011-10-10","rh":84.4},{"date":"2011-10-11","rh":90.4},{"date":"2011-10-13","rh":80.6},{"date":"2011-10-14","rh":87.4},{"date":"2011-10-15","rh":91.1},{"date":"2011-10-17","rh":79.9},{"date":"2011-10-18","rh":87.4},{"date":"2011-10-19","rh":77.3},{"date":"2011-10-20","rh":87.4},{"date":"2011-10-21","rh":84.4},{"date":"2011-10-22","rh":88.9},{"date":"2011-10-24","rh":85.9},{"date":"2011-10-25","rh":91.9},{"date":"2011-10-27","rh":94.9},{"date":"2011-10-28","rh":89.6},{"date":"2011-10-29","rh":93.4},{"date":"2011-10-31","rh":85.1},
{"date":"2011-11-01","rh":91.1},{"date":"2011-11-03","rh":94.1},{"date":"2011-11-04","rh":91.1},{"date":"2011-11-05","rh":88.9},{"date":"2011-11-07","rh":93.4},{"date":"2011-11-08","rh":89.6},{"date":"2011-11-10","rh":94.1},{"date":"2011-11-11","rh":92.6},{"date":"2011-11-12","rh":94.9},{"date":"2011-11-14","rh":75},{"date":"2011-11-15","rh":91.9},{"date":"2011-11-16","rh":94.9},{"date":"2011-11-17","rh":88.9},{"date":"2011-11-19","rh":91.9},{"date":"2011-11-20","rh":93.4},{"date":"2011-11-22","rh":90.4},{"date":"2011-11-23","rh":94.1},{"date":"2011-11-24","rh":96.4},{"date":"2011-11-26","rh":91.9},{"date":"2011-11-27","rh":87.4},{"date":"2011-11-29","rh":94.9},{"date":"2011-11-30","rh":96.8},
{"date":"2011-12-01","rh":87.4},{"date":"2011-12-03","rh":96.4},{"date":"2011-12-04","rh":91.1},{"date":"2011-12-06","rh":97.1},{"date":"2011-12-07","rh":88.9},{"date":"2011-12-08","rh":93.4},{"date":"2011-12-10","rh":95.6},{"date":"2011-12-11","rh":84.4},{"date":"2011-12-12","rh":94.1},{"date":"2011-12-14","rh":96.4},{"date":"2011-12-15","rh":91.1},{"date":"2011-12-17","rh":95.6},{"date":"2011-12-18","rh":89.6},{"date":"2011-12-19","rh":93.4},{"date":"2011-12-21","rh":96.4},{"date":"2011-12-22","rh":97.5},{"date":"2011-12-23","rh":91.1},{"date":"2011-12-25","rh":97.1},{"date":"2011-12-26","rh":77.6},{"date":"2011-12-27","rh":94.9},{"date":"2011-12-29","rh":91.1},{"date":"2011-12-30","rh":87.4},{"date":"2011-12-31","rh":95.6},
{"date":"2012-01-02","rh":93.4},{"date":"2012-01-03","rh":84.4},{"date":"2012-01-05","rh":91.1},{"date":"2012-01-06","rh":94.9},{"date":"2012-01-08","rh":83.6},{"date":"2012-01-09","rh":90.4},{"date":"2012-01-10","rh":96.4},{"date":"2012-01-11","rh":98.3},{"date":"2012-01-12","rh":91.9},{"date":"2012-01-14","rh":84.4},{"date":"2012-01-15","rh":90.4},{"date":"2012-01-17","rh":97.1},{"date":"2012-01-18","rh":97.9},{"date":"2012-01-19","rh":91.1},{"date":"2012-01-21","rh":95.6},{"date":"2012-01-22","rh":92.6},{"date":"2012-01-23","rh":85.9},{"date":"2012-01-25","rh":94.1},{"date":"2012-01-26","rh":82.1},{"date":"2012-01-28","rh":87.4},{"date":"2012-01-29","rh":80.6},{"date":"2012-01-30","rh":88.1},
{"date":"2012-02-01","rh":85.9},{"date":"2012-02-02","rh":81.4},{"date":"2012-02-04","rh":90.4},{"date":"2012-02-05","rh":97.1},{"date":"2012-02-06","rh":78.4},{"date":"2012-02-07","rh":96.4},{"date":"2012-02-08","rh":87.4},{"date":"2012-02-09","rh":97.9},{"date":"2012-02-11","rh":100},{"date":"2012-02-12","rh":93.4},{"date":"2012-02-13","rh":97.9},{"date":"2012-02-14","rh":87.4},{"date":"2012-02-16","rh":96.4},{"date":"2012-02-17","rh":85.9},{"date":"2012-02-19","rh":92.6},{"date":"2012-02-20","rh":85.1},{"date":"2012-02-21","rh":94.9},{"date":"2012-02-23","rh":80.6},{"date":"2012-02-24","rh":94.1},{"date":"2012-02-26","rh":77.6},{"date":"2012-02-27","rh":91.9},{"date":"2012-02-28","rh":82.9},{"date":"2012-02-29","rh":63.4},
{"date":"2012-03-01","rh":93.4},{"date":"2012-03-02","rh":87.4},{"date":"2012-03-04","rh":91.1},{"date":"2012-03-05","rh":79.9},{"date":"2012-03-06","rh":73.1},{"date":"2012-03-08","rh":97.1},{"date":"2012-03-09","rh":91.1},{"date":"2012-03-10","rh":83.6},{"date":"2012-03-11","rh":53.6},{"date":"2012-03-12","rh":84.4},{"date":"2012-03-13","rh":52.9},{"date":"2012-03-15","rh":76.1},{"date":"2012-03-16","rh":91.9},{"date":"2012-03-17","rh":82.9},{"date":"2012-03-19","rh":73.1},{"date":"2012-03-20","rh":87.4},{"date":"2012-03-21","rh":66.4},{"date":"2012-03-22","rh":92.6},{"date":"2012-03-23","rh":64.9},{"date":"2012-03-24","rh":79.9},{"date":"2012-03-26","rh":91.9},{"date":"2012-03-27","rh":60.4},{"date":"2012-03-28","rh":91.1},{"date":"2012-03-30","rh":52.1},{"date":"2012-03-31","rh":87.4},
{"date":"2012-04-01","rh":61.9},{"date":"2012-04-02","rh":48.8},{"date":"2012-04-03","rh":87.4},{"date":"2012-04-04","rh":72.4},{"date":"2012-04-05","rh":90.4},{"date":"2012-04-06","rh":57.4},{"date":"2012-04-08","rh":83.6},{"date":"2012-04-09","rh":50.6},{"date":"2012-04-10","rh":79.9},{"date":"2012-04-11","rh":87.4},{"date":"2012-04-13","rh":66.4},{"date":"2012-04-14","rh":88.9},{"date":"2012-04-15","rh":79.9},{"date":"2012-04-16","rh":70.9},{"date":"2012-04-17","rh":87.4},{"date":"2012-04-19","rh":46.9},{"date":"2012-04-20","rh":82.9},{"date":"2012-04-21","rh":89.6},{"date":"2012-04-22","rh":66.4},{"date":"2012-04-24","rh":87.4},{"date":"2012-04-25","rh":90.8},{"date":"2012-04-27","rh":79.9},{"date":"2012-04-28","rh":49.9},{"date":"2012-04-29","rh":37.9},{"date":"2012-04-30","rh":64.9},
{"date":"2012-05-02","rh":79.9},{"date":"2012-05-03","rh":46.1},{"date":"2012-05-04","rh":84.4},{"date":"2012-05-05","rh":72.4},{"date":"2012-05-06","rh":37.7},{"date":"2012-05-07","rh":66.4},{"date":"2012-05-09","rh":79.9},{"date":"2012-05-10","rh":90.4},{"date":"2012-05-11","rh":64.9},{"date":"2012-05-12","rh":82.9},{"date":"2012-05-13","rh":66.4},{"date":"2012-05-14","rh":40.1},{"date":"2012-05-15","rh":79.9},{"date":"2012-05-16","rh":72.4},{"date":"2012-05-17","rh":84.4},{"date":"2012-05-19","rh":50.6},{"date":"2012-05-20","rh":73.9},{"date":"2012-05-21","rh":42.4},{"date":"2012-05-22","rh":37.9},{"date":"2012-05-23","rh":64.9},{"date":"2012-05-24","rh":80.6},{"date":"2012-05-25","rh":52.9},{"date":"2012-05-26","rh":81.4},{"date":"2012-05-27","rh":39.8},{"date":"2012-05-29","rh":72.4},{"date":"2012-05-30","rh":42.4},{"date":"2012-05-31","rh":81.4},
{"date":"2012-06-01","rh":60.4},{"date":"2012-06-02","rh":84},{"date":"2012-06-03","rh":44.6},{"date":"2012-06-04","rh":79.9},{"date":"2012-06-05","rh":46.9},{"date":"2012-06-07","rh":79.9},{"date":"2012-06-08","rh":57.4},{"date":"2012-06-09","rh":80.6},{"date":"2012-06-10","rh":50.6},{"date":"2012-06-11","rh":79.9},{"date":"2012-06-12","rh":46.9},{"date":"2012-06-13","rh":79.1},{"date":"2012-06-14","rh":57.4},{"date":"2012-06-16","rh":79.9},{"date":"2012-06-17","rh":57.4},{"date":"2012-06-18","rh":83.3},{"date":"2012-06-19","rh":66.4},{"date":"2012-06-20","rh":49.9},{"date":"2012-06-21","rh":42.4},{"date":"2012-06-22","rh":82.1},{"date":"2012-06-23","rh":57.4},{"date":"2012-06-24","rh":51.4},{"date":"2012-06-26","rh":82.5},{"date":"2012-06-27","rh":52.1},{"date":"2012-06-28","rh":82.9},{"date":"2012-06-29","rh":64.9}
    ]
  },
  "vconcat": [
    {
      "width": 1110,
      "height": 505,
      "data": {"name": "us6"},
      "title": {"text": "RH US6", "fontSize": 41, "fontWeight": "bold", "color": "#000000", "font": "Lato", "anchor": "middle", "baseline": "alphabetic", "offset": -104},
      "mark": {"type": "line", "color": "#5B9BD5", "strokeWidth": 4, "strokeJoin": "round", "strokeCap": "round"},
      "encoding": {
        "x": {
          "field": "date", "type": "temporal",
          "scale": {"type": "utc", "nice": false, "domain": [{"year": 2010, "month": 4, "date": 14, "utc": true}, {"year": 2012, "month": 6, "date": 30, "utc": true}], "range": [97, 1061]},
          "axis": {
            "title": null, "grid": false, "offset": -124.3, "tickSize": 7, "labelPadding": 22,
            "labelAngle": -45, "labelAlign": "right", "labelBaseline": "middle",
            "labelExpr": "utcFormat(datum.value, '%d.%m.%y')",
            "values": [
              {"year": 2010, "month": 4, "date": 14, "utc": true}, {"year": 2010, "month": 6, "date": 14, "utc": true},
              {"year": 2010, "month": 8, "date": 14, "utc": true}, {"year": 2010, "month": 10, "date": 14, "utc": true},
              {"year": 2010, "month": 12, "date": 14, "utc": true}, {"year": 2011, "month": 2, "date": 14, "utc": true},
              {"year": 2011, "month": 4, "date": 14, "utc": true}, {"year": 2011, "month": 6, "date": 14, "utc": true},
              {"year": 2011, "month": 8, "date": 14, "utc": true}, {"year": 2011, "month": 10, "date": 14, "utc": true},
              {"year": 2011, "month": 12, "date": 14, "utc": true}, {"year": 2012, "month": 2, "date": 14, "utc": true},
              {"year": 2012, "month": 4, "date": 14, "utc": true}, {"year": 2012, "month": 6, "date": 14, "utc": true}
            ]
          }
        },
        "y": {
          "field": "rh", "type": "quantitative",
          "scale": {"domain": [30, 100], "nice": false, "zero": false, "range": [380.7, 112.3]},
          "axis": {"title": null, "grid": true, "offset": -97, "tickSize": 8, "labelPadding": 18, "values": [30, 40, 50, 60, 70, 80, 90, 100]}
        }
      }
    },
    {
      "width": 1110,
      "height": 545,
      "data": {"name": "us7"},
      "title": {"text": "RH US7", "fontSize": 41, "fontWeight": "bold", "color": "#000000", "font": "Lato", "anchor": "middle", "baseline": "alphabetic", "offset": -103},
      "mark": {"type": "line", "color": "#5B9BD5", "strokeWidth": 4, "strokeJoin": "round", "strokeCap": "round"},
      "encoding": {
        "x": {
          "field": "date", "type": "temporal",
          "scale": {"type": "utc", "nice": false, "domain": [{"year": 2010, "month": 4, "date": 14, "utc": true}, {"year": 2012, "month": 6, "date": 30, "utc": true}], "range": [97, 1061]},
          "axis": {
            "title": null, "grid": false, "offset": -122.3, "tickSize": 7, "labelPadding": 22,
            "labelAngle": -45, "labelAlign": "right", "labelBaseline": "middle",
            "labelExpr": "utcFormat(datum.value, '%d.%m.%y')",
            "values": [
              {"year": 2010, "month": 4, "date": 14, "utc": true}, {"year": 2010, "month": 6, "date": 14, "utc": true},
              {"year": 2010, "month": 8, "date": 14, "utc": true}, {"year": 2010, "month": 10, "date": 14, "utc": true},
              {"year": 2010, "month": 12, "date": 14, "utc": true}, {"year": 2011, "month": 2, "date": 14, "utc": true},
              {"year": 2011, "month": 4, "date": 14, "utc": true}, {"year": 2011, "month": 6, "date": 14, "utc": true},
              {"year": 2011, "month": 8, "date": 14, "utc": true}, {"year": 2011, "month": 10, "date": 14, "utc": true},
              {"year": 2011, "month": 12, "date": 14, "utc": true}, {"year": 2012, "month": 2, "date": 14, "utc": true},
              {"year": 2012, "month": 4, "date": 14, "utc": true}, {"year": 2012, "month": 6, "date": 14, "utc": true}
            ]
          }
        },
        "y": {
          "field": "rh", "type": "quantitative",
          "scale": {"domain": [30, 100], "nice": false, "zero": false, "range": [422.7, 111.7]},
          "axis": {"title": null, "grid": true, "offset": -97, "tickSize": 8, "labelPadding": 18, "values": [30, 40, 50, 60, 70, 80, 90, 100]}
        }
      }
    }
  ]
}
